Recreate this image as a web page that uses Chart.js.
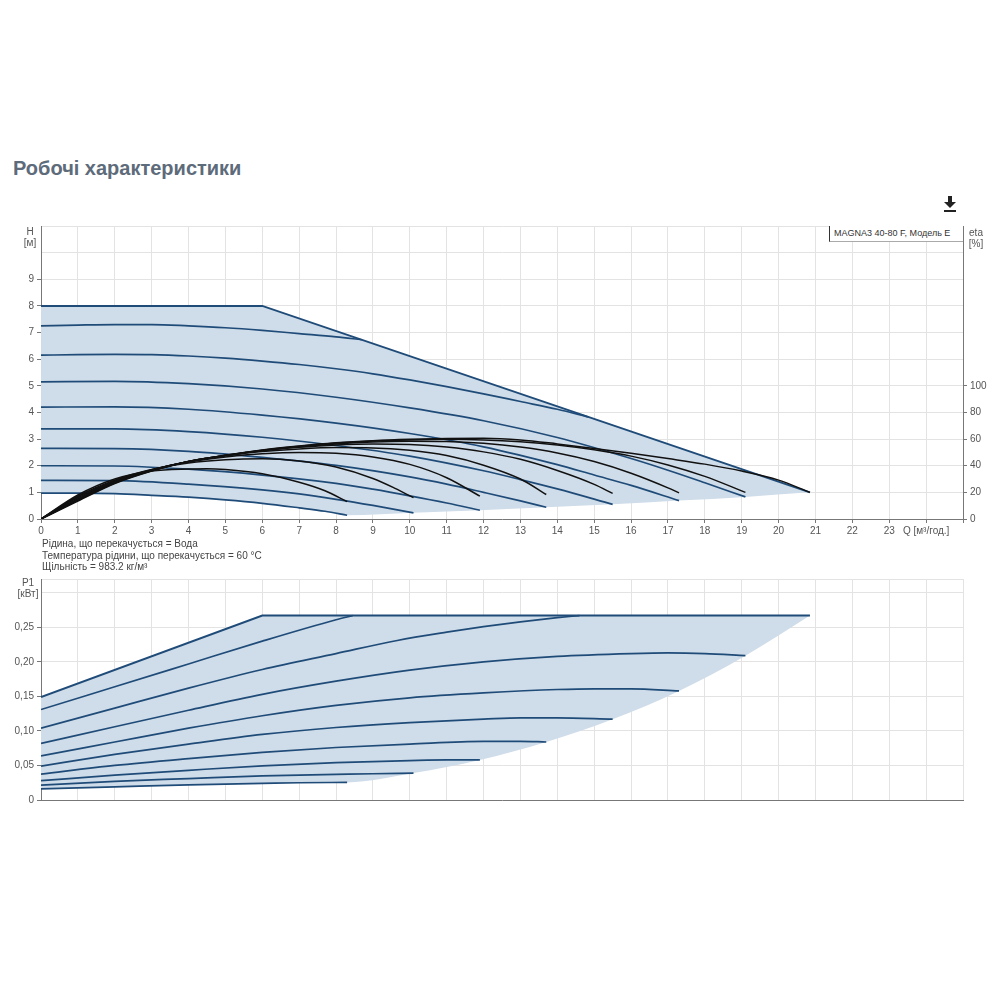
<!DOCTYPE html>
<html>
<head>
<meta charset="utf-8">
<script src="https://cdn.jsdelivr.net/npm/chart.js@4.4.1/dist/chart.umd.min.js"></script>
<style>
  body { margin: 0; background: #fff; width: 1000px; height: 1000px; position: relative; overflow: hidden;
         font-family: "Liberation Sans", Arial, sans-serif; }
  h1 { position: absolute; left: 13px; top: 157px; margin: 0; font: bold 20px "Liberation Sans", Arial, sans-serif; color: #5d6b7a; }
  canvas { position: absolute; left: 0; }
  #headChart  { top: 215px; }
  #powerChart { top: 570px; }
  .lbl { position: absolute; font-size: 10px; color: #555; line-height: 11px; text-align: center; z-index: 2; }
  .notes { position: absolute; left: 42px; top: 538px; font-size: 10px; line-height: 11.5px; color: #444; z-index: 2; }
  .model { position: absolute; left: 829px; top: 226px; width: 129px; height: 15px; padding-left: 4px;
           background: #fff; border-left: 1px solid #333; border-bottom: 1px solid #aaa;
           font-size: 9px; line-height: 15px; color: #333; z-index: 2; white-space: nowrap; }
  #dl { position: absolute; left: 943px; top: 196px; z-index: 2; }
</style>
</head>
<body>
<h1>Робочі характеристики</h1>
<svg id="dl" width="14" height="17" viewBox="0 0 14 17">
  <rect x="5" y="0" width="4" height="6" fill="#222"/>
  <polygon points="1,6 13,6 7,12" fill="#222"/>
  <rect x="1" y="14" width="12" height="2" fill="#222"/>
</svg>

<canvas id="headChart" width="1000" height="330"></canvas>
<canvas id="powerChart" width="1000" height="240"></canvas>

<div class="lbl" style="left:22px;top:226px;width:16px">H<br>[м]</div>
<div class="lbl" style="left:965px;top:227px;width:22px">eta<br>[%]</div>
<div class="lbl" style="left:14px;top:577px;width:28px">P1<br>[кВт]</div>
<div class="model">MAGNA3 40-80 F, Модель E</div>
<div class="notes">
  Рідина, що перекачується = Вода<br>
  Температура рідини, що перекачується = 60 °C<br>
  Щільність = 983.2 кг/м³
</div>

<script>
// --- Head curves H [m] vs Q [m3/h] ---
const headMax = [[0, 8], [6, 8], [20.85, 1.0]];
const head725 = [[0, 7.25], [1, 7.28], [2, 7.3], [3, 7.3], [4, 7.25], [5, 7.18], [6, 7.08], [7, 6.96], [8, 6.84], [8.7, 6.73]];
const head615 = [[0, 6.15], [1, 6.17], [2, 6.18], [3, 6.17], [4, 6.12], [5, 6.04], [6, 5.93], [7, 5.8], [8, 5.64], [9, 5.45],
                 [10, 5.22], [11, 4.97], [12, 4.7], [13, 4.41], [14, 4.12], [14.85, 3.83]];
const head515 = [[0, 5.15], [2, 5.17], [4, 5.08], [6, 4.88], [8, 4.57], [10, 4.17], [12, 3.69], [14, 3.06], [16, 2.27], [17, 1.83], [18, 1.36], [19.1, 0.83]];
const head420 = [[0, 4.2], [2, 4.21], [4, 4.12], [6, 3.9], [8, 3.6], [10, 3.21], [12, 2.71], [14, 2.04], [15, 1.65], [16, 1.26], [17.3, 0.69]];
const head338 = [[0, 3.38], [2, 3.38], [4, 3.28], [6, 3.07], [8, 2.76], [10, 2.36], [12, 1.81], [13, 1.48], [14, 1.13], [15.5, 0.55]];
const head265 = [[0, 2.65], [2, 2.64], [4, 2.54], [6, 2.31], [8, 2.01], [10, 1.58], [11, 1.31], [12, 1.0], [13, 0.68], [13.7, 0.44]];
const head200 = [[0, 2.0], [2, 1.99], [4, 1.87], [6, 1.65], [8, 1.34], [9, 1.12], [10, 0.87], [11, 0.6], [11.9, 0.33]];
const head145 = [[0, 1.45], [2, 1.44], [4, 1.31], [6, 1.09], [7, 0.94], [8, 0.74], [9, 0.51], [10.1, 0.23]];
const head097 = [[0, 0.97], [1, 0.97], [2, 0.95], [3, 0.89], [4, 0.82], [5, 0.72], [6, 0.59], [7, 0.42], [7.7, 0.29], [8.3, 0.14]];
// ends of the curves (lower edge of the shaded area)
const headEnds = [[8.3, 0.14], [10.1, 0.23], [11.9, 0.33], [13.7, 0.44], [15.5, 0.55], [17.3, 0.69], [19.1, 0.83], [20.85, 1.0]];

// --- Efficiency curves, drawn on the H axis (1 m = 20 %) ---
const eff1 = [[0, 0], [1, 0.9], [2, 1.5], [3, 1.8], [4, 1.88], [4.5, 1.89], [5, 1.86], [6, 1.7], [7, 1.38], [7.7, 1.06], [8.3, 0.65]];
const eff2 = [[0, 0], [1, 0.86], [2, 1.46], [3, 1.86], [4, 2.1], [5, 2.22], [6, 2.26], [7, 2.18], [8, 1.95], [9, 1.52], [9.6, 1.15], [10.1, 0.8]];
const eff3 = [[0, 0], [1, 0.83], [2, 1.43], [3, 1.85], [4, 2.14], [5, 2.33], [6, 2.45], [7, 2.5], [8, 2.47], [9, 2.33], [10, 2.05], [11, 1.55], [11.9, 0.86]];
const eff4 = [[0, 0], [1, 0.8], [2, 1.41], [3, 1.84], [4, 2.16], [5, 2.37], [6, 2.53], [7, 2.63], [8, 2.68], [9, 2.67], [10, 2.58], [11, 2.38], [12, 2.02], [13, 1.5], [13.7, 0.92]];
const eff5 = [[0, 0], [1, 0.76], [2, 1.39], [3, 1.83], [4, 2.16], [5, 2.38], [6, 2.56], [7, 2.69], [8, 2.78], [9, 2.82], [10, 2.8], [11, 2.7], [12, 2.52], [13, 2.24], [14, 1.82], [15, 1.3], [15.5, 0.96]];
const eff6 = [[0, 0], [1, 0.73], [2, 1.37], [3, 1.82], [4, 2.16], [5, 2.38], [6, 2.57], [7, 2.71], [8, 2.82], [9, 2.89], [10, 2.92], [11, 2.91], [12, 2.84], [13, 2.7], [14, 2.48], [15, 2.16], [16, 1.72], [17, 1.17], [17.3, 0.98]];
const eff7 = [[0, 0], [1, 0.7], [2, 1.35], [3, 1.81], [4, 2.16], [5, 2.39], [6, 2.58], [7, 2.73], [8, 2.85], [9, 2.93], [10, 2.97], [11, 2.99], [12, 2.97], [13, 2.9], [14, 2.78], [15, 2.6], [16, 2.36], [17, 2.03], [18, 1.6], [19.1, 1.0]];
const eff8 = [[0, 0], [1, 0.67], [2, 1.33], [3, 1.8], [4, 2.16], [5, 2.39], [6, 2.59], [7, 2.74], [8, 2.86], [9, 2.94], [10, 2.99], [11, 3.02], [12, 3.03], [13, 2.97], [14, 2.82], [15, 2.65], [16, 2.47], [17, 2.27], [18, 2.06], [19, 1.8], [20, 1.46], [20.85, 1.0]];

// --- Power curves P1 [kW] ---
const powerMax = [[0, 0.149], [6, 0.267], [20.85, 0.267]];
const power2  = [[0, 0.131], [2, 0.164], [4, 0.197], [6, 0.23], [8, 0.261], [8.45, 0.267]];
const power3  = [[0, 0.104], [2, 0.133], [4, 0.162], [6, 0.189], [8, 0.212], [9.66, 0.231], [11, 0.243], [12, 0.251], [13, 0.258], [14, 0.264], [14.6, 0.267]];
const power4  = [[0, 0.082], [2, 0.106], [4, 0.13], [6, 0.153], [8, 0.172], [10, 0.188], [12, 0.2], [14, 0.208], [16, 0.212], [17, 0.213], [18, 0.212], [19.1, 0.209]];
const power5  = [[0, 0.064], [2, 0.084], [4, 0.104], [6, 0.122], [8, 0.137], [10, 0.148], [12, 0.155], [14, 0.16], [15, 0.161], [16, 0.161], [17.3, 0.158]];
const power6  = [[0, 0.049], [2, 0.066], [4, 0.081], [6, 0.095], [8, 0.105], [10, 0.112], [12, 0.117], [13, 0.119], [14, 0.119], [15.5, 0.117]];
const power7  = [[0, 0.0375], [2, 0.05], [4, 0.06], [6, 0.069], [8, 0.076], [10, 0.081], [12, 0.085], [13, 0.085], [13.7, 0.084]];
const power8  = [[0, 0.028], [2, 0.036], [4, 0.043], [6, 0.0495], [8, 0.054], [10, 0.057], [11, 0.058], [11.9, 0.058]];
const power9  = [[0, 0.0215], [2, 0.027], [4, 0.031], [6, 0.035], [8, 0.037], [9, 0.038], [10.1, 0.039]];
const power10 = [[0, 0.016], [2, 0.019], [4, 0.022], [6, 0.024], [7, 0.025], [8.3, 0.0255]];
const powerEnds = [[8.3, 0.0255], [10.1, 0.039], [11.9, 0.058], [13.7, 0.084], [15.5, 0.117], [17.3, 0.158], [19.1, 0.209], [20.85, 0.267]];

const BLUE  = '#1f4b78';
const BLACK = '#111111';
const SHADE = 'rgb(207,220,233)';
const GRID  = '#e3e3e3';
const AXIS  = '#777';
const NONE  = 'rgba(0,0,0,0)';
const FONT  = { family: '"Liberation Sans", Arial, sans-serif', size: 10 };

const toXY = pts => pts.map(([x, y]) => ({ x, y }));

function curve(pts, color, width, order) {
  return { data: toXY(pts), borderColor: color, borderWidth: width, pointRadius: 0, fill: false,
           cubicInterpolationMode: 'monotone', order };
}

function qAxis(showLabels, height) {
  return {
    type: 'linear', min: 0, max: 25,
    afterFit: s => { s.height = height; },
    border: { color: AXIS },
    grid: { color: GRID, tickColor: AXIS, tickLength: 4, drawTicks: showLabels },
    ticks: {
      display: showLabels, stepSize: 1, autoSkip: false, maxRotation: 0, padding: 2, color: '#555', font: FONT,
      callback: v => v === 24 ? 'Q [м³/год.]' : (v === 25 ? '' : v),
    },
  };
}

// --- Head / efficiency chart ---
const headBlue = [head725, head615, head515, head420, head338, head265, head200, head145, head097];
const effBlack = [eff1, eff2, eff3, eff4, eff5, eff6, eff7, eff8];
const headLower = head097.concat(headEnds.slice(1));

const headSets = [];
const headLowerIdx = 1 + headBlue.length + effBlack.length;
headSets.push({ ...curve(headMax, BLUE, 2, 1), cubicInterpolationMode: 'default', tension: 0,
                fill: headLowerIdx, backgroundColor: SHADE });
headBlue.forEach(p => headSets.push(curve(p, BLUE, 1.7, 2)));
effBlack.forEach(p => headSets.push(curve(p, BLACK, 1.5, 0)));
headSets.push({ ...curve(headLower, NONE, 0, 3) });

new Chart(document.getElementById('headChart'), {
  type: 'line',
  data: { datasets: headSets },
  options: {
    responsive: false, animation: false, events: [],
    layout: { padding: { top: 11, left: 0, right: 0, bottom: 0 } },
    plugins: { legend: { display: false }, tooltip: { enabled: false }, filler: { drawTime: 'beforeDatasetsDraw' } },
    scales: {
      x: qAxis(true, 26),
      y: {
        type: 'linear', position: 'left', min: 0, max: 11,
        afterFit: s => { s.width = 41; },
        border: { color: AXIS },
        grid: { color: GRID, tickColor: c => c.tick && c.tick.value >= 10 ? NONE : AXIS, tickLength: 4 },
        ticks: { stepSize: 1, padding: 3, color: '#555', font: FONT, callback: v => v >= 10 ? '' : v },
      },
      eta: {
        type: 'linear', position: 'right', min: 0, max: 220,
        afterFit: s => { s.width = 37; },
        border: { color: AXIS },
        grid: { drawOnChartArea: false, tickColor: c => c.tick && c.tick.value > 100 ? NONE : AXIS, tickLength: 4 },
        ticks: { stepSize: 20, padding: 3, color: '#555', font: FONT, callback: v => v > 100 ? '' : v },
      },
    },
  },
});

// --- Power chart ---
const powerBlue = [power2, power3, power4, power5, power6, power7, power8, power9, power10];
const powerLower = power10.concat(powerEnds.slice(1));

const powerSets = [];
const powerLowerIdx = 1 + powerBlue.length;
powerSets.push({ ...curve(powerMax, BLUE, 2, 1), cubicInterpolationMode: 'default', tension: 0,
                 fill: powerLowerIdx, backgroundColor: SHADE });
powerBlue.forEach(p => powerSets.push(curve(p, BLUE, 1.7, 2)));
powerSets.push({ ...curve(powerLower, NONE, 0, 3) });

new Chart(document.getElementById('powerChart'), {
  type: 'line',
  data: { datasets: powerSets },
  options: {
    responsive: false, animation: false, events: [],
    layout: { padding: { top: 7, left: 0, right: 37, bottom: 0 } },
    plugins: { legend: { display: false }, tooltip: { enabled: false }, filler: { drawTime: 'beforeDatasetsDraw' } },
    scales: {
      x: qAxis(false, 10),
      y: {
        type: 'linear', min: 0, max: 0.32,
        afterFit: s => { s.width = 41; },
        border: { color: AXIS },
        grid: { color: GRID, tickColor: c => c.tick && c.tick.value > 0.27 ? NONE : AXIS, tickLength: 4 },
        ticks: {
          stepSize: 0.05, padding: 3, color: '#555', font: FONT,
          callback: v => v > 0.27 ? '' : (v === 0 ? '0' : v.toFixed(2).replace('.', ',')),
        },
      },
    },
  },
});
</script>
</body>
</html>
